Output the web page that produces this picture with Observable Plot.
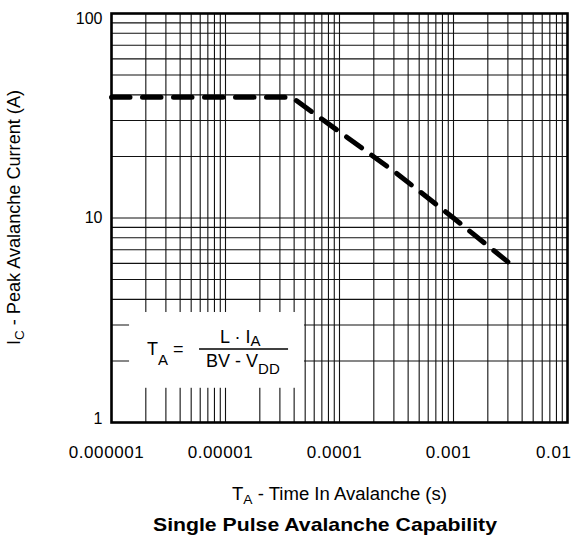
<!DOCTYPE html>
<html><head><meta charset="utf-8">
<script src="https://cdn.jsdelivr.net/npm/d3@7"></script>
<script src="https://cdn.jsdelivr.net/npm/@observablehq/plot@0.6"></script>
<style>
body{margin:0;background:#fff;}
#chart svg{display:block;}
#chart g[aria-label="x-axis tick label"] text{letter-spacing:0.6px;}
</style></head>
<body><div id="chart"></div>
<script>
// Data
const timeInAvalanche = [1e-6, 3.8e-5, 3.1e-4, 1e-3, 3e-3];
const peakCurrent     = [39,   39,     16.7,   10,   6.1];

// Axis ticks / labels
const xDecades    = [1e-6, 1e-5, 1e-4, 1e-3, 1e-2];
const xTickLabels = ["0.000001", "0.00001", "0.0001", "0.001", "0.01"];
const yDecades    = [1, 10, 100];
const yTickLabels = ["1", "10", "100"];
const mantissas   = [1, 2, 3, 4, 5, 6, 7, 8, 9];

// Formula annotation box (data units)
const formulaBoxX = [1.44e-6, 4.93e-5];
const formulaBoxY = [1.47, 3.45];

const xGrid = xDecades.slice(0, -1).flatMap(d => mantissas.map(m => m * d)).concat([xDecades[xDecades.length - 1]]);
const yGrid = yDecades.slice(0, -1).flatMap(d => mantissas.map(m => m * d)).concat([yDecades[yDecades.length - 1]]);

const xFmt = d => xTickLabels[xDecades.indexOf(d)];
const yFmt = d => yTickLabels[yDecades.indexOf(d)];

const W = 573, H = 539;
const plot = Plot.plot({
  width: W, height: H,
  marginTop: 13, marginBottom: 117, marginLeft: 111, marginRight: 6,
  style: {fontFamily: "'Liberation Sans', Arial, Helvetica, sans-serif", fontSize: "16px", color: "black", background: "white", overflow: "visible"},
  x: {type: "log", domain: [xDecades[0], xDecades[xDecades.length - 1]]},
  y: {type: "log", domain: [yDecades[0], yDecades[yDecades.length - 1]]},
  marks: [
    Plot.ruleX(xGrid, {stroke: "#111", strokeWidth: 1.1}),
    Plot.ruleY(yGrid, {stroke: "#111", strokeWidth: 1.1}),
    Plot.rect([0], {x1: [formulaBoxX[0]], x2: [formulaBoxX[1]], y1: [formulaBoxY[0]], y2: [formulaBoxY[1]], fill: "white"}),
    Plot.line(timeInAvalanche, {x: timeInAvalanche, y: peakCurrent, stroke: "black", strokeWidth: 5, strokeDasharray: "18.5,12.5", strokeLinecap: "round"}),
    Plot.frame({stroke: "black", strokeWidth: 2.6}),
    Plot.axisX(xDecades.slice(0, 4), {tickSize: 0, tickPadding: 23, tickFormat: xFmt, dx: -5, fontSize: 17, label: null}),
    Plot.axisX(xDecades.slice(4), {tickSize: 0, tickPadding: 23, tickFormat: xFmt, dx: 4, textAnchor: "end", fontSize: 17, label: null}),
    Plot.axisY([yDecades[0]], {tickSize: 0, tickPadding: 9, tickFormat: yFmt, dy: -4, fontSize: 16, label: null}),
    Plot.axisY([yDecades[1]], {tickSize: 0, tickPadding: 9, tickFormat: yFmt, dy: 0, fontSize: 16, label: null}),
    Plot.axisY([yDecades[2]], {tickSize: 0, tickPadding: 9, tickFormat: yFmt, dy: 5.5, fontSize: 16, label: null})
  ]
});
document.getElementById("chart").appendChild(plot);

const svg = d3.select(plot);
const fam = "'Liberation Sans', Arial, Helvetica, sans-serif";
const xs = plot.scale("x"), ys = plot.scale("y");

// Y axis title
const yl = svg.append("text")
  .attr("transform", "translate(19.5,217.5) rotate(-90)")
  .attr("text-anchor", "middle").attr("font-family", fam).attr("font-size", 17.5)
  .attr("textLength", 255).attr("lengthAdjust", "spacingAndGlyphs").attr("fill", "black");
yl.append("tspan").text("I");
yl.append("tspan").attr("font-size", 13).attr("dy", 4).text("C");
yl.append("tspan").attr("dy", -4).text(" - Peak Avalanche Current (A)");

// X axis title
const xl = svg.append("text")
  .attr("x", 232).attr("y", 500).attr("text-anchor", "start")
  .attr("font-family", fam).attr("font-size", 17.5)
  .attr("textLength", 215).attr("lengthAdjust", "spacingAndGlyphs").attr("fill", "black");
xl.append("tspan").text("T");
xl.append("tspan").attr("font-size", 13).attr("dy", 4).text("A");
xl.append("tspan").attr("dy", -4).text(" - Time In Avalanche (s)");

// Chart title
svg.append("text")
  .attr("x", 153).attr("y", 531).attr("text-anchor", "start")
  .attr("font-family", fam).attr("font-size", 19).attr("font-weight", "bold")
  .attr("textLength", 344).attr("lengthAdjust", "spacingAndGlyphs").attr("fill", "black")
  .text("Single Pulse Avalanche Capability");

// Formula inside the box
const bx = xs.apply(formulaBoxX[0]), by = ys.apply(formulaBoxY[1]);
const g = svg.append("g").attr("font-family", fam).attr("fill", "black").attr("font-size", 18).attr("text-anchor", "start");
const t1 = g.append("text").attr("x", bx + 18).attr("y", by + 43);
t1.append("tspan").text("T");
t1.append("tspan").attr("font-size", 15).attr("dy", 10).text("A");
t1.append("tspan").attr("dy", -10).text(" =");
g.append("line").attr("x1", bx + 70).attr("x2", bx + 159).attr("y1", by + 37).attr("y2", by + 37)
  .attr("stroke", "black").attr("stroke-width", 1.5);
const t2 = g.append("text").attr("x", bx + 91).attr("y", by + 31);
t2.append("tspan").text("L \u00B7 I");
t2.append("tspan").attr("font-size", 15).attr("dy", 3).text("A");
const t3 = g.append("text").attr("x", bx + 77).attr("y", by + 55);
t3.append("tspan").text("BV - V");
t3.append("tspan").attr("font-size", 15).attr("dy", 7).text("DD");
</script>
</body></html>
